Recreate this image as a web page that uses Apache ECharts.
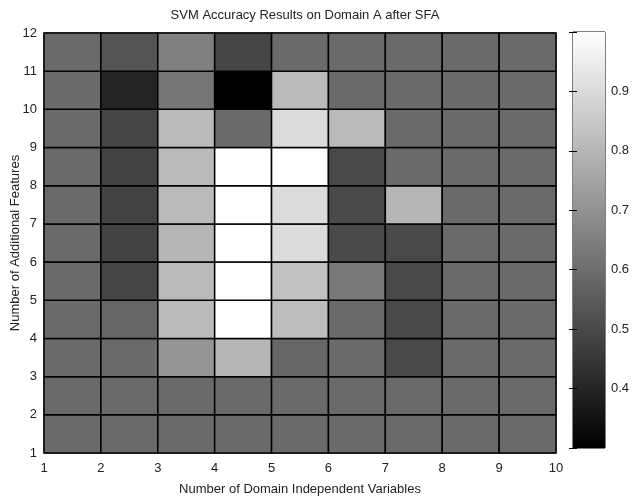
<!DOCTYPE html>
<html>
<head>
<meta charset="utf-8">
<script src="https://cdn.jsdelivr.net/npm/echarts@6/dist/echarts.min.js"></script>
<style>html,body{margin:0;padding:0;background:#fff;}#c{width:635px;height:500px;}</style>
</head>
<body>
<div id="c"></div>
<script>
// Domain independent variables (x edges) and additional features (y edges)
const xTicks = [1, 2, 3, 4, 5, 6, 7, 8, 9, 10];
const yTicks = [1, 2, 3, 4, 5, 6, 7, 8, 9, 10, 11, 12];
const colorTicks = [0.4, 0.5, 0.6, 0.7, 0.8, 0.9];
// Accuracy per cell; each row lists x = 1..9 for the given y
const accY1  = [0.59, 0.59, 0.59, 0.59, 0.59, 0.59, 0.59, 0.59, 0.59];
const accY2  = [0.59, 0.59, 0.59, 0.59, 0.59, 0.59, 0.59, 0.59, 0.59];
const accY3  = [0.59, 0.59, 0.71, 0.80, 0.58, 0.59, 0.50, 0.59, 0.59];
const accY4  = [0.59, 0.58, 0.81, 1.00, 0.82, 0.59, 0.50, 0.59, 0.59];
const accY5  = [0.59, 0.49, 0.81, 1.00, 0.83, 0.63, 0.50, 0.59, 0.59];
const accY6  = [0.59, 0.48, 0.80, 1.00, 0.90, 0.50, 0.50, 0.59, 0.59];
const accY7  = [0.59, 0.48, 0.81, 1.00, 0.90, 0.50, 0.80, 0.59, 0.59];
const accY8  = [0.59, 0.48, 0.81, 1.00, 1.00, 0.50, 0.59, 0.59, 0.59];
const accY9  = [0.59, 0.49, 0.81, 0.59, 0.90, 0.81, 0.59, 0.59, 0.59];
const accY10 = [0.59, 0.40, 0.62, 0.30, 0.81, 0.59, 0.59, 0.59, 0.59];
const accY11 = [0.59, 0.53, 0.65, 0.49, 0.59, 0.59, 0.59, 0.59, 0.59];
const accRows = [accY1, accY2, accY3, accY4, accY5, accY6, accY7, accY8, accY9, accY10, accY11];

const cellData = [];
accRows.forEach((row, ri) => {
  row.forEach((v, ci) => { cellData.push([xTicks[ci], yTicks[ri], v]); });
});

const cMin = 0.3, cMax = 1.0;
const font = 'Liberation Sans, Arial, sans-serif';
const txt = '#222';
const chart = echarts.init(document.getElementById('c'));
chart.setOption({
  backgroundColor: '#fff',
  animation: false,
  title: {
    text: 'SVM Accuracy Results on Domain A after SFA',
    left: 300, top: 4, textAlign: 'center',
    textStyle: { fontFamily: font, fontSize: 13, fontWeight: 'normal', color: txt }
  },
  visualMap: {
    show: false, seriesIndex: 0, dimension: 2, min: cMin, max: cMax,
    inRange: { color: ['#000000', '#ffffff'] }
  },
  grid: [
    { left: 44, right: 79, top: 33, bottom: 47, containLabel: false, outerBoundsMode: 'none',
      show: true, borderColor: '#000', borderWidth: 1, backgroundColor: 'transparent' },
    { left: 573, width: 32, top: 32, height: 416, containLabel: false, outerBoundsMode: 'none',
      show: true, borderColor: '#000', borderWidth: 1 }
  ],
  xAxis: [
    {
      gridIndex: 0, type: 'value', min: 1, max: 10, interval: 1,
      name: 'Number of Domain Independent Variables', nameLocation: 'middle', nameGap: 30,
      nameMoveOverlap: false,
      nameTextStyle: { fontFamily: font, fontSize: 13, color: txt },
      axisLine: { show: false }, axisTick: { show: false }, splitLine: { show: false },
      axisLabel: { fontFamily: font, fontSize: 13, color: txt, margin: 9 }
    },
    { gridIndex: 1, type: 'value', min: 0, max: 1, show: false }
  ],
  yAxis: [
    {
      gridIndex: 0, type: 'value', min: 1, max: 12, interval: 1,
      name: 'Number of Additional Features', nameLocation: 'middle', nameGap: 22,
      nameMoveOverlap: false,
      nameTextStyle: { fontFamily: font, fontSize: 13, color: txt },
      axisLine: { show: false }, axisTick: { show: false }, splitLine: { show: false },
      axisLabel: { fontFamily: font, fontSize: 13, color: txt, margin: 7 }
    },
    {
      gridIndex: 1, type: 'value', min: 0.3, max: 1.0, interval: 0.1, position: 'right', z: 5,
      axisLine: { show: false }, splitLine: { show: false },
      axisTick: { show: true, inside: true, length: 4, lineStyle: { color: '#000' } },
      axisLabel: {
        fontFamily: font, fontSize: 13, color: txt, margin: 6,
        formatter: v => { const r = Math.round(v * 10) / 10; return colorTicks.includes(r) ? r.toFixed(1) : ''; }
      }
    },
    {
      gridIndex: 1, type: 'value', min: 0.3, max: 1.0, interval: 0.1, position: 'left', z: 5,
      axisLine: { show: false }, splitLine: { show: false }, axisLabel: { show: false },
      axisTick: { show: true, inside: true, length: 4, lineStyle: { color: '#000' } }
    }
  ],
  series: [
    {
      type: 'custom', xAxisIndex: 0, yAxisIndex: 0, data: cellData,
      encode: { x: 0, y: 1 },
      renderItem: (params, api) => {
        const x = api.value(0), y = api.value(1);
        const p0 = api.coord([x, y + 1]);
        const p1 = api.coord([x + 1, y]);
        return {
          type: 'rect',
          shape: { x: p0[0], y: p0[1], width: p1[0] - p0[0], height: p1[1] - p0[1] },
          style: { fill: api.visual('color'), stroke: '#000', lineWidth: 1.5 }
        };
      }
    },
    {
      type: 'custom', xAxisIndex: 1, yAxisIndex: 1, data: [[0, cMin, cMax]], z: 1,
      renderItem: (params, api) => {
        const p0 = api.coord([0, api.value(2)]);
        const p1 = api.coord([1, api.value(1)]);
        return {
          type: 'rect',
          shape: { x: p0[0], y: p0[1], width: p1[0] - p0[0], height: p1[1] - p0[1] },
          style: {
            fill: new echarts.graphic.LinearGradient(0, 0, 0, 1, [
              { offset: 0, color: '#ffffff' }, { offset: 1, color: '#000000' }
            ])
          }
        };
      }
    }
  ]
});
</script>
</body>
</html>
